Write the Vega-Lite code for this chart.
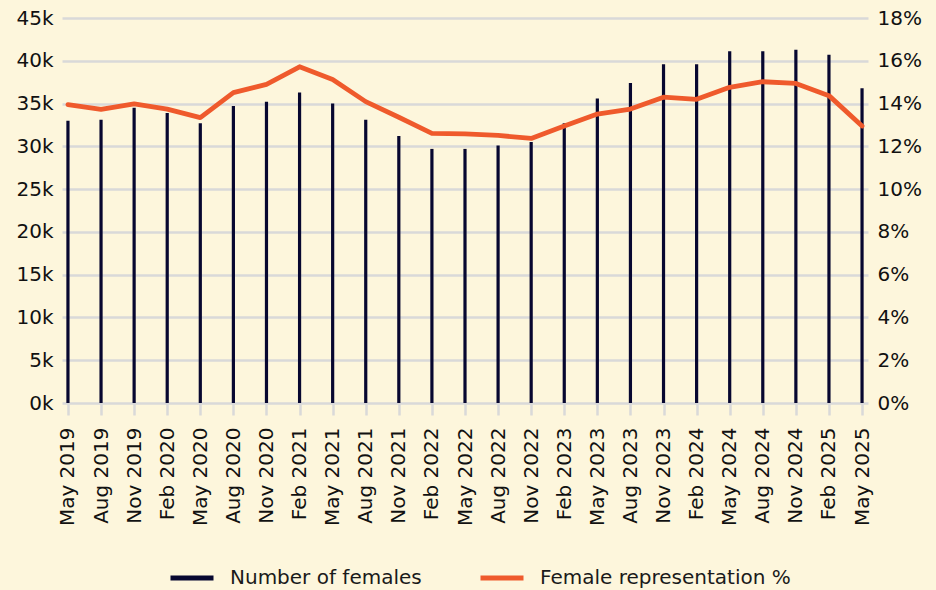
{
  "$schema": "https://vega.github.io/schema/vega-lite/v6.json",
  "width": 806,
  "height": 385,
  "autosize": "none",
  "padding": {"left": 62, "top": 18, "right": 68, "bottom": 187},
  "background": "#fdf6dc",
  "config": {
    "view": {"stroke": null},
    "font": "DejaVu Sans",
    "axis": {"labelFont": "DejaVu Sans", "labelFontSize": 20, "labelColor": "#111111"},
    "legend": {"labelFont": "DejaVu Sans", "labelFontSize": 20, "labelColor": "#1a1a1a", "labelLimit": 400}
  },
  "data": {
    "values": [
      {"month": "May 2019", "females": 33000, "pct": 13.95},
      {"month": "Aug 2019", "females": 33100, "pct": 13.73},
      {"month": "Nov 2019", "females": 34500, "pct": 13.98},
      {"month": "Feb 2020", "females": 33900, "pct": 13.74},
      {"month": "May 2020", "females": 32700, "pct": 13.34},
      {"month": "Aug 2020", "females": 34700, "pct": 14.51},
      {"month": "Nov 2020", "females": 35200, "pct": 14.9},
      {"month": "Feb 2021", "females": 36300, "pct": 15.72},
      {"month": "May 2021", "females": 35000, "pct": 15.13},
      {"month": "Aug 2021", "females": 33100, "pct": 14.09},
      {"month": "Nov 2021", "females": 31200, "pct": 13.36},
      {"month": "Feb 2022", "females": 29700, "pct": 12.61},
      {"month": "May 2022", "females": 29700, "pct": 12.58},
      {"month": "Aug 2022", "females": 30100, "pct": 12.51},
      {"month": "Nov 2022", "females": 30500, "pct": 12.37},
      {"month": "Feb 2023", "females": 32700, "pct": 12.95},
      {"month": "May 2023", "females": 35600, "pct": 13.51},
      {"month": "Aug 2023", "females": 37400, "pct": 13.74},
      {"month": "Nov 2023", "females": 39600, "pct": 14.3},
      {"month": "Feb 2024", "females": 39600, "pct": 14.2},
      {"month": "May 2024", "females": 41100, "pct": 14.76},
      {"month": "Aug 2024", "females": 41100, "pct": 15.02},
      {"month": "Nov 2024", "females": 41300, "pct": 14.94},
      {"month": "Feb 2025", "females": 40700, "pct": 14.37},
      {"month": "May 2025", "females": 36800, "pct": 12.95}
    ]
  },
  "encoding": {
    "x": {
      "field": "month",
      "type": "ordinal",
      "sort": null,
      "scale": {"type": "point", "padding": 0.18},
      "axis": {
        "title": null,
        "labelAngle": -90,
        "labelPadding": 12,
        "tickSize": 12,
        "tickWidth": 2.5,
        "tickColor": "#d9d9d9",
        "domain": false,
        "grid": false
      }
    }
  },
  "layer": [
    {
      "mark": {"type": "rule", "strokeWidth": 3.2},
      "encoding": {
        "y": {
          "field": "females",
          "type": "quantitative",
          "scale": {"domain": [0, 45000], "nice": false},
          "axis": {
            "title": null,
            "values": [0, 5000, 10000, 15000, 20000, 25000, 30000, 35000, 40000, 45000],
            "labelExpr": "datum.value / 1000 + 'k'",
            "ticks": false,
            "domain": false,
            "labelPadding": 9,
            "grid": true,
            "gridColor": "#d9d9d9",
            "gridWidth": 2.5
          }
        },
        "y2": {"datum": 0},
        "color": {
          "datum": "Number of females",
          "type": "nominal",
          "scale": {
            "domain": ["Number of females", "Female representation %"],
            "range": ["#070730", "#ef5a2c"]
          },
          "legend": {
            "title": null,
            "orient": "none",
            "direction": "horizontal",
            "legendX": 106,
            "legendY": 536,
            "symbolType": "stroke",
            "symbolSize": 1849,
            "symbolStrokeWidth": 5,
            "labelOffset": 14,
            "columnPadding": 48,
            "labelLimit": 400,
            "padding": 0
          }
        }
      }
    },
    {
      "mark": {"type": "line", "strokeWidth": 4.8, "strokeJoin": "round", "strokeCap": "round"},
      "encoding": {
        "y": {
          "field": "pct",
          "type": "quantitative",
          "scale": {"domain": [0, 18], "nice": false},
          "axis": {
            "title": null,
            "orient": "right",
            "values": [0, 2, 4, 6, 8, 10, 12, 14, 16, 18],
            "labelExpr": "datum.value + '%'",
            "ticks": false,
            "domain": false,
            "grid": false,
            "labelPadding": 9
          }
        },
        "color": {"datum": "Female representation %", "type": "nominal"}
      }
    }
  ],
  "resolve": {"scale": {"y": "independent"}}
}
